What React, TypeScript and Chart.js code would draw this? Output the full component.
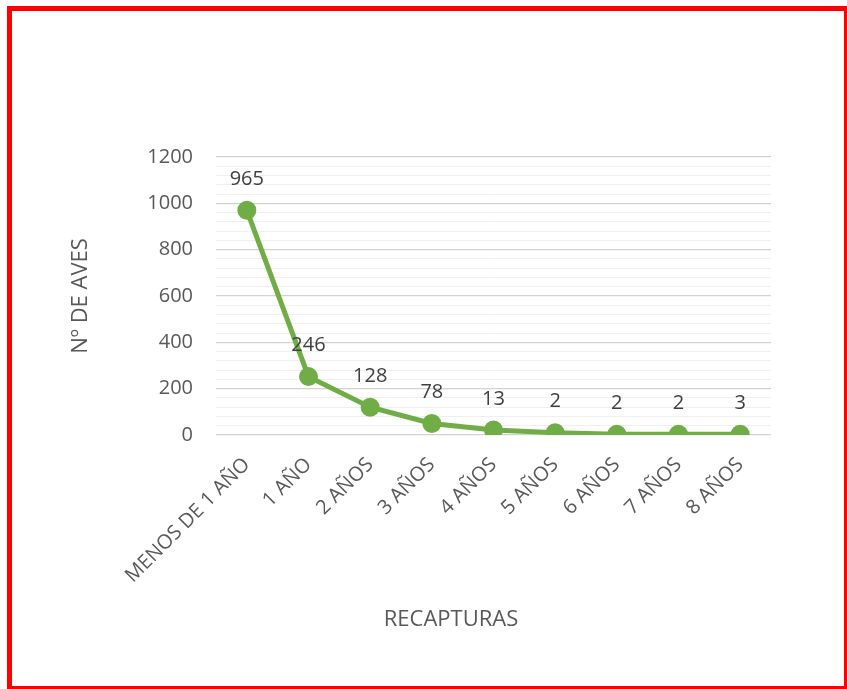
import { useEffect, useRef } from 'react';
import { Chart, registerables } from 'chart.js';

Chart.register(...registerables);

const categories = ['MENOS DE 1 AÑO', '1 AÑO', '2 AÑOS', '3 AÑOS', '4 AÑOS', '5 AÑOS', '6 AÑOS', '7 AÑOS', '8 AÑOS'];
const plottedValues = [970, 252, 120, 50, 22, 10, 3, 3, 3];
const valueLabels = ['965', '246', '128', '78', '13', '2', '2', '2', '3'];
const xTitle = 'RECAPTURAS';
const yTitle = 'Nº DE AVES';
const yMin = 0;
const yMax = 1200;
const yMinorStep = 40;
const yMajorStep = 200;

const FONT = '"Open Sans", sans-serif';

const pointLabelPlugin = {
  id: 'pointLabels',
  afterDatasetsDraw(chart: any) {
    const ctx = chart.ctx;
    const meta = chart.getDatasetMeta(0);
    ctx.save();
    ctx.font = `20px ${FONT}`;
    ctx.fillStyle = '#404040';
    ctx.textAlign = 'center';
    ctx.textBaseline = 'middle';
    meta.data.forEach((el: any, i: number) => {
      ctx.fillText(valueLabels[i], el.x, el.y - 31);
    });
    // x-axis title, centred on the whole chart as in the original
    ctx.font = `22px ${FONT}`;
    ctx.fillStyle = '#595959';
    ctx.fillText(xTitle, 451, 620);
    ctx.restore();
  },
};

export default function App() {
  const canvasRef = useRef<HTMLCanvasElement | null>(null);

  useEffect(() => {
    let chart: Chart | null = null;
    let cancelled = false;
    document.body.style.overflow = 'hidden';
    const make = () => {
      if (cancelled || !canvasRef.current) return;
      chart = new Chart(canvasRef.current, {
        type: 'line',
        data: {
          labels: categories,
          datasets: [
            {
              data: plottedValues,
              borderColor: '#70ad47',
              backgroundColor: '#70ad47',
              borderWidth: 5,
              pointRadius: 7,
              pointBackgroundColor: '#70ad47',
              pointBorderColor: '#70ad47',
              tension: 0,
            },
          ],
        },
        options: {
          animation: false,
          responsive: false,
          layout: { padding: { left: 68, right: 76, top: 157, bottom: 57 } },
          plugins: { legend: { display: false }, tooltip: { enabled: false } },
          scales: {
            x: {
              type: 'category',
              offset: true,
              grid: { display: false },
              border: { display: false },
              ticks: {
                minRotation: 45,
                maxRotation: 45,
                autoSkip: false,
                padding: 10,
                color: '#595959',
                font: { family: FONT, size: 20 },
              },
              title: { display: false },
              afterFit: (s: any) => {
                s.height = 197;
              },
            },
            y: {
              min: yMin,
              max: yMax,
              grid: {
                drawTicks: false,
                color: (c: any) => (c.tick && c.tick.value % yMajorStep === 0 ? '#d2d2d2' : '#efefef'),
                lineWidth: (c: any) => (c.tick && c.tick.value % yMajorStep === 0 ? 1.3 : 1),
              },
              border: { display: false },
              ticks: {
                stepSize: yMinorStep,
                autoSkip: false,
                padding: 23,
                color: '#595959',
                font: { family: FONT, size: 20 },
                callback: (v: any) => (Number(v) % yMajorStep === 0 ? String(v) : ''),
              },
              title: {
                display: true,
                text: yTitle,
                color: '#595959',
                font: { family: FONT, size: 22 },
                padding: 0,
              },
              afterFit: (s: any) => {
                s.width = 148;
              },
            },
          },
        },
        plugins: [pointLabelPlugin],
      });
    };
    const fonts: any = (document as any).fonts;
    if (fonts && fonts.load) {
      Promise.all([fonts.load(`20px ${FONT}`), fonts.load(`22px ${FONT}`)]).then(make, make);
    } else {
      make();
    }
    return () => {
      cancelled = true;
      if (chart) chart.destroy();
    };
  }, []);

  return (
    <div style={{ position: 'fixed', left: 0, top: 0, width: 847, height: 689, background: '#fff', overflow: 'hidden' }}>
      <canvas ref={canvasRef} width={847} height={689} style={{ position: 'absolute', left: 0, top: 0, width: 847, height: 689 }} />
      <div
        style={{
          position: 'absolute',
          left: 7,
          top: 6,
          width: 832,
          height: 675,
          borderLeft: '5px solid #ff0000',
          borderTop: '5px solid #ff0000',
          borderRight: '3px solid #ff0000',
          borderBottom: '3px solid #ff0000',
          pointerEvents: 'none',
        }}
      />
    </div>
  );
}
